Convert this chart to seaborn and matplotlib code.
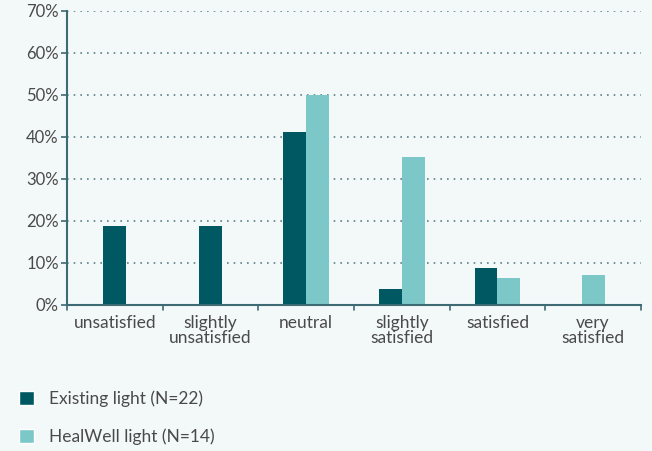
import matplotlib
matplotlib.use("Agg")
import matplotlib.pyplot as plt
from matplotlib.patches import Patch
import pandas as pd
import seaborn as sns

categories = ["unsatisfied", "slightly\nunsatisfied", "neutral", "slightly\nsatisfied", "satisfied", "very\nsatisfied"]
existing = [18.8, 18.8, 41.2, 3.8, 8.8, 0.0]
healwell = [0.0, 0.0, 50.0, 35.2, 6.4, 7.1]
series_names = ["Existing light (N=22)", "HealWell light (N=14)"]
yticks = [0, 10, 20, 30, 40, 50, 60, 70]

bg = "#f3f9f9"
dark = "#005862"
light = "#7cc8c8"
text_col = "#4a4a4a"
axis_col = "#3e6a73"

sns.set_style("white")
plt.rcParams["font.family"] = ["Lato", "DejaVu Sans"]

df = pd.DataFrame({
    "category": categories * 2,
    "value": existing + healwell,
    "series": [series_names[0]] * len(categories) + [series_names[1]] * len(categories),
})

fig = plt.figure(figsize=(6.52, 4.51), dpi=100, facecolor=bg)
ax = fig.add_axes([0.103, 0.324, 0.88, 0.652])
ax.set_facecolor(bg)

sns.barplot(data=df, x="category", y="value", hue="series", order=categories,
            hue_order=series_names, palette=[dark, light], width=0.48,
            dodge=True, saturation=1, errorbar=None, legend=False,
            linewidth=0, ax=ax)

# centre the bar when a category has only one series
n = len(categories)
for i in range(n):
    pair = [ax.patches[i], ax.patches[i + n]]
    shown = [p for p in pair if p.get_height() > 0]
    if len(shown) == 1:
        shown[0].set_x(i - shown[0].get_width() / 2)

ax.set_xlim(-0.5, n - 0.5)
ax.set_ylim(0, 70)
ax.set_yticks(yticks)
ax.set_yticklabels([f"{t}%" for t in yticks], color=text_col, fontsize=12)
ax.set_xticks(range(n))
ax.set_xticklabels(categories, color=text_col, fontsize=12.5, linespacing=0.95)
ax.tick_params(axis="x", length=0, pad=7)
ax.tick_params(axis="y", length=4, color=axis_col, width=1.2, pad=2, left=True)
for b in range(n + 1):
    ax.plot([b - 0.5, b - 0.5], [0, -1.2], color=axis_col, lw=1.2, clip_on=False)
ax.set_xlabel("")
ax.set_ylabel("")

ax.yaxis.grid(True, linestyle=(0, (1, 3)), color="#5f8088", linewidth=1.2)
ax.set_axisbelow(True)
for s in ["top", "right"]:
    ax.spines[s].set_visible(False)
for s in ["left", "bottom"]:
    ax.spines[s].set_color(axis_col)
    ax.spines[s].set_linewidth(1.5)

handles = [Patch(facecolor=dark), Patch(facecolor=light)]
fig.legend(handles, series_names, loc="upper left", bbox_to_anchor=(0.005, 0.168),
           frameon=False, fontsize=12.5, handlelength=0.85, handleheight=0.85,
           handletextpad=0.9, labelspacing=1.2, labelcolor=text_col)

fig.savefig("out.png", dpi=100, facecolor=bg)
